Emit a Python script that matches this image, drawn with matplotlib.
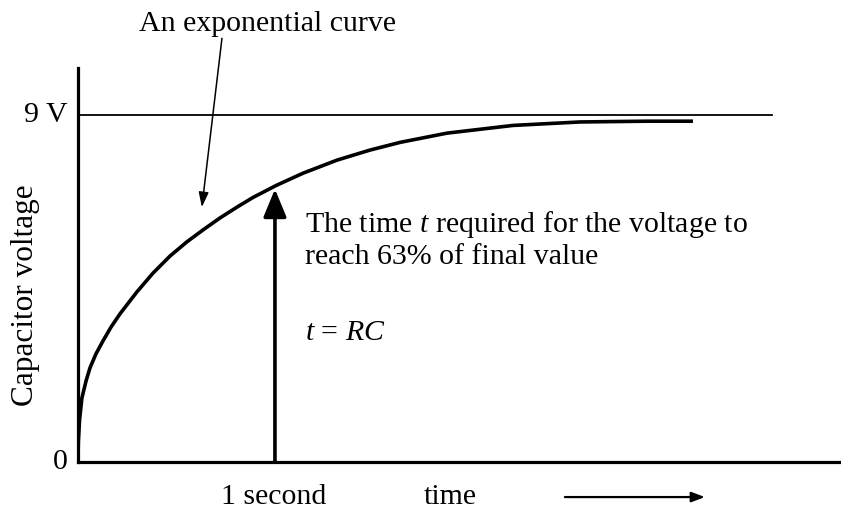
import matplotlib.pyplot as plt

# curve (time in seconds, voltage in volts)
time_s = [0, 0.002, 0.008, 0.020, 0.041, 0.061, 0.091, 0.127, 0.168, 0.213,
          0.299, 0.381, 0.467, 0.553, 0.635, 0.721, 0.807, 0.888, 1.005,
          1.142, 1.315, 1.482, 1.635, 1.873, 2.208, 2.548, 2.888, 3.122]
volts = [0, 0.52, 1.09, 1.66, 2.10, 2.44, 2.80, 3.14, 3.50, 3.84,
         4.41, 4.90, 5.34, 5.71, 6.02, 6.33, 6.61, 6.86, 7.17,
         7.49, 7.83, 8.09, 8.29, 8.53, 8.73, 8.82, 8.84, 8.84]
final_v = 9
rc_time = 1.0
rc_volts = 7.08
line_end = 3.523

plt.rcParams['font.family'] = ['Liberation Serif', 'DejaVu Serif']
plt.rcParams['mathtext.fontset'] = 'custom'
plt.rcParams['mathtext.rm'] = 'Liberation Serif'
plt.rcParams['mathtext.it'] = 'Liberation Serif:italic'

fig = plt.figure(figsize=(8.41, 5.12), dpi=100)
ax = fig.add_axes([0.0927, 0.0977, 0.906, 0.7695])
ax.set_xlim(0, 3.868)
ax.set_ylim(0, 10.22)
for s in ['top', 'right']:
    ax.spines[s].set_visible(False)
for s in ['left', 'bottom']:
    ax.spines[s].set_linewidth(2.3)
ax.set_xticks([])
ax.set_yticks([])

ax.plot([0, line_end], [final_v, final_v], color='black', lw=1.3)
ax.plot(time_s, volts, color='black', lw=2.6, solid_capstyle='butt',
        solid_joinstyle='round')

# vertical arrow at t = RC
ax.annotate('', xy=(rc_time, rc_volts), xytext=(rc_time, 0),
            arrowprops=dict(arrowstyle='-|>,head_length=1.7,head_width=0.7',
                            lw=2.6, color='black', shrinkA=0, shrinkB=0))

fs = 21.5
ax.text(-0.05, final_v, '9 V', ha='right', va='center', fontsize=fs)
ax.text(-0.05, 0, '0', ha='right', va='center', fontsize=fs)
ax.text(-0.264, 4.33, 'Capacitor voltage', rotation=90, ha='center',
        va='center', fontsize=22.5)

ax.text(0.995, -0.92, '1 second', ha='center', va='center', fontsize=fs,
        clip_on=False)
ax.text(1.888, -0.92, 'time', ha='center', va='center', fontsize=fs,
        clip_on=False)
ax.annotate('', xy=(3.183, -0.91), xytext=(2.472, -0.91),
            arrowprops=dict(arrowstyle='-|>,head_length=0.8,head_width=0.3',
                            lw=1.6, color='black', shrinkA=0, shrinkB=0),
            annotation_clip=False)

ax.annotate('', xy=(0.629, 6.61), xytext=(0.731, 10.99),
            arrowprops=dict(arrowstyle='-|>,head_length=0.9,head_width=0.3',
                            lw=1.1, color='black', shrinkA=0, shrinkB=0),
            annotation_clip=False)
ax.text(0.964, 11.36, 'An exponential curve', ha='center', va='center',
        fontsize=fs, clip_on=False)

ax.text(1.152, 5.76, 'The time $\\it{t}$ required for the voltage to\nreach 63% of final value',
        ha='left', va='center', fontsize=fs, linespacing=1.2)
ax.text(1.152, 3.35, '$\\it{t}$ = $\\it{RC}$', ha='left', va='center', fontsize=fs)

fig.savefig('out.png', dpi=100)
